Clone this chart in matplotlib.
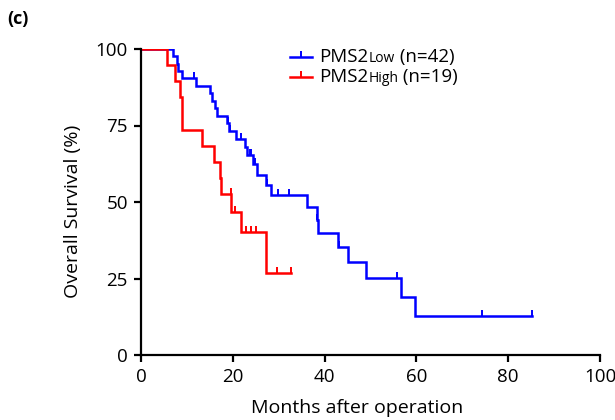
import numpy as np
import matplotlib
matplotlib.use("Agg")
import matplotlib.pyplot as plt
from matplotlib.offsetbox import TextArea, HPacker, VPacker, DrawingArea, AnchoredOffsetbox
from matplotlib.lines import Line2D

plt.rcParams['font.family'] = ['Open Sans', 'DejaVu Sans']

# ---- data (months, event flag: 1 = death, 0 = censored) ----
low_times = [7.0, 7.8, 8.1, 8.9, 11.5, 12.0, 15.0, 15.4, 16.1, 16.6, 18.7, 19.0,
             19.2, 19.4, 20.8, 21.8, 22.7, 23.0, 23.7, 23.9, 24.3, 24.6, 24.9,
             25.2, 27.2, 27.4, 28.3, 29.9, 32.3, 36.1, 38.3, 38.4, 38.5, 43.0,
             43.2, 45.0, 49.0, 55.7, 56.6, 59.8, 74.4, 85.1]
low_events = [1, 1, 1, 1, 0, 1, 1, 1, 1, 1, 1, 0,
              1, 0, 1, 0, 1, 1, 0, 0, 1, 0, 0,
              1, 1, 0, 1, 0, 0, 1, 1, 0, 1, 1,
              0, 1, 1, 0, 1, 1, 0, 0]
high_times = [5.6, 7.3, 8.6, 9.0, 9.0, 13.2, 15.8, 17.2, 17.4, 19.5, 19.7, 20.5,
              21.8, 22.9, 24.0, 25.0, 27.2, 29.6, 32.6]
high_events = [1, 1, 1, 1, 1, 1, 1, 1, 1, 0, 1, 0,
               1, 0, 0, 0, 1, 0, 0]

groups = ["Low", "High"]
group_n = [42, 19]
colors = ["#0000FF", "#FF0000"]
x_ticks = [0, 20, 40, 60, 80, 100]
y_ticks = [0, 25, 50, 75, 100]


def kaplan_meier(times, events):
    t = np.asarray(times, float)
    e = np.asarray(events, int)
    order = np.lexsort((1 - e, t))
    t, e = t[order], e[order]
    n = len(t)
    s = 1.0
    xs, ys = [0.0], [100.0]
    cens_x, cens_y = [], []
    at_risk = n
    i = 0
    while i < n:
        ti = t[i]
        j = i
        d = 0
        c = 0
        while j < n and t[j] == ti:
            d += e[j]
            c += 1 - e[j]
            j += 1
        if d > 0:
            s *= (at_risk - d) / at_risk
            xs.append(ti)
            ys.append(s * 100)
        if c > 0:
            cens_x.append(ti)
            cens_y.append(s * 100)
        at_risk -= d + c
        i = j
    xs.append(t.max())
    ys.append(s * 100)
    return xs, ys, cens_x, cens_y


fig = plt.figure(figsize=(6.15, 4.2), dpi=100)
ax = fig.add_axes([141 / 615, 1 - 355 / 420, 459 / 615, 306 / 420])

LW = 1.8
data = [(low_times, low_events), (high_times, high_events)]
for (tt, ee), col in zip(data, colors):
    xs, ys, cx, cy = kaplan_meier(tt, ee)
    ax.plot(xs, ys, drawstyle='steps-post', color=col, lw=LW, solid_joinstyle='miter')
    ax.plot(cx, cy, linestyle='none', marker=2, markersize=4.5, markeredgewidth=1.4, color=col)

ax.set_xlim(0, 100)
ax.set_ylim(0, 100)
ax.set_xticks(x_ticks)
ax.set_yticks(y_ticks)
for sp in ['top', 'right']:
    ax.spines[sp].set_visible(False)
for sp in ['left', 'bottom']:
    ax.spines[sp].set_linewidth(1.6)
ax.tick_params(direction='out', length=5, width=1.6, labelsize=13.5, pad=4.5)
ax.set_xlabel('Months after operation', fontsize=14)
ax.set_ylabel('Overall Survival (%)', fontsize=14)
ax.xaxis.set_label_coords((357 - 141) / 459, -0.145)
ax.yaxis.set_label_coords((82 - 141) / 459, 0.47)
for s in ax.spines.values():
    s.set_clip_on(False)

# legend with smaller "Low"/"High"
rows = []
for g, n, col in zip(groups, group_n, colors):
    da = DrawingArea(16, 8, 0, 0)
    da.add_artist(Line2D([0, 16], [4, 4], color=col, lw=LW))
    da.add_artist(Line2D([8], [4], marker=2, markersize=4, markeredgewidth=1.4, color=col))
    txt = HPacker(children=[TextArea("PMS2", textprops=dict(fontsize=13.5)),
                            TextArea(g, textprops=dict(fontsize=10)),
                            TextArea(" (n=%d)" % n, textprops=dict(fontsize=13.5))],
                  align="baseline", pad=0, sep=0)
    rows.append(HPacker(children=[da, txt], align="center", pad=0, sep=5))
box = VPacker(children=rows, align="left", pad=0, sep=1.5)
anch = AnchoredOffsetbox(loc='upper left', child=box, frameon=False,
                         bbox_to_anchor=(290 / 615, 1 - 48 / 420), bbox_transform=fig.transFigure,
                         borderpad=0, pad=0)
ax.add_artist(anch)

fig.text(7 / 615, 1 - 24 / 420, '(c)', fontsize=13, fontweight='bold', va='baseline')

fig.savefig('out.png', dpi=100)
